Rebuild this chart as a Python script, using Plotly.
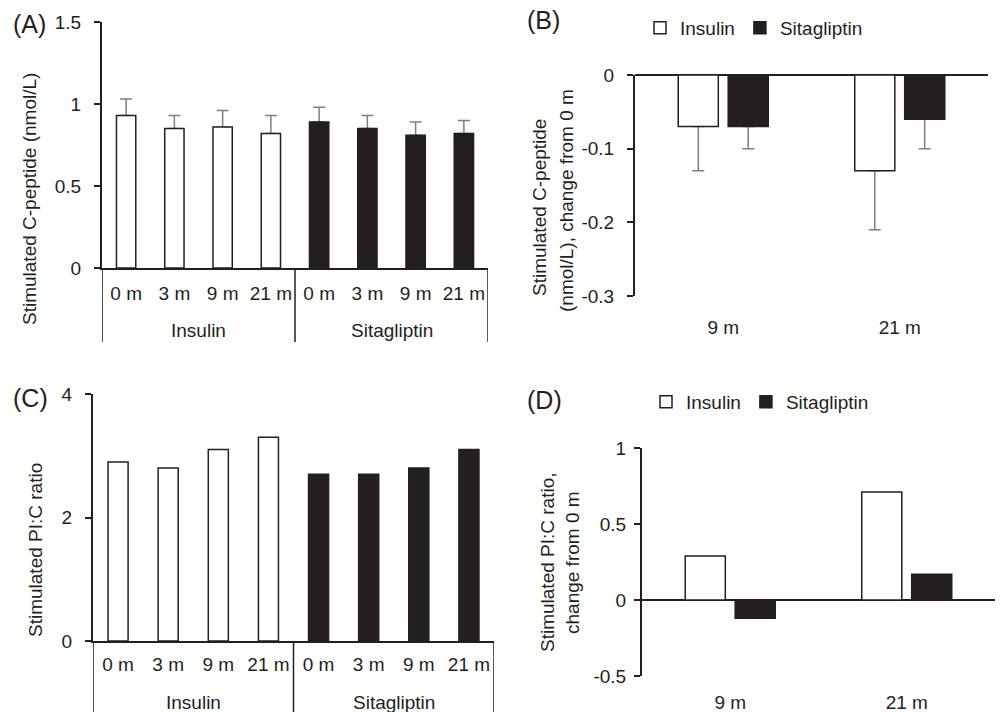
import plotly.graph_objects as go

FONT = "Liberation Sans, Arial, sans-serif"
INK = "#231f20"
ERR = "#7f7f7f"

# ---------------- data ----------------
groups = ["Insulin", "Sitagliptin"]
months_all = ["0 m", "3 m", "9 m", "21 m"]
months_change = ["9 m", "21 m"]

# (A) stimulated C-peptide (nmol/L)
a_insulin = [0.93, 0.85, 0.86, 0.82]
a_insulin_err = [0.10, 0.08, 0.10, 0.11]
a_sita = [0.89, 0.85, 0.81, 0.82]
a_sita_err = [0.09, 0.08, 0.08, 0.08]

# (B) change in stimulated C-peptide from 0 m
b_insulin = [-0.07, -0.13]
b_insulin_err = [0.06, 0.08]
b_sita = [-0.07, -0.06]
b_sita_err = [0.03, 0.04]

# (C) stimulated PI:C ratio
c_insulin = [2.9, 2.8, 3.1, 3.3]
c_sita = [2.7, 2.7, 2.8, 3.1]

# (D) change in PI:C ratio from 0 m
d_insulin = [0.29, 0.71]
d_sita = [-0.12, 0.17]

# tick labels
a_tickvals = [0, 0.5, 1, 1.5]
a_ticktext = ["0", "0.5", "1", "1.5"]
b_tickvals = [0, -0.1, -0.2, -0.3]
b_ticktext = ["0", "-0.1", "-0.2", "-0.3"]
c_tickvals = [0, 2, 4]
c_ticktext = ["0", "2", "4"]
d_tickvals = [-0.5, 0, 0.5, 1]
d_ticktext = ["-0.5", "0", "0.5", "1"]

# ---------------- figure ----------------
W, H = 1000, 712
fig = go.Figure()

def px_x(p):
    return p / W

def px_y(p):
    return 1 - p / H

CLEAR = "rgba(0,0,0,0)"
ERRSTYLE = dict(color=ERR, thickness=1.5, width=6)

# slot positions of the two-level category axis (groups x months)
n_m = len(months_all)
slot = {g: [gi * n_m + i for i in range(n_m)] for gi, g in enumerate(groups)}
all_slots = slot[groups[0]] + slot[groups[1]]
all_labels = months_all * len(groups)

# Panel A: error-bar carriers first, visible bars on top
for grp, vals, errs, fill in [
    (groups[0], a_insulin, a_insulin_err, "white"),
    (groups[1], a_sita, a_sita_err, INK),
]:
    fig.add_trace(go.Bar(x=slot[grp], y=vals, width=0.4, marker=dict(color=CLEAR, line=dict(width=0)),
                         error_y=dict(type="data", visible=True, symmetric=False, array=errs, **ERRSTYLE),
                         xaxis="x", yaxis="y", showlegend=False, hoverinfo="skip"))
    fig.add_trace(go.Bar(x=slot[grp], y=vals, width=0.4, name=grp,
                         marker=dict(color=fill, line=dict(color=INK, width=1.5)),
                         xaxis="x", yaxis="y", showlegend=False))

# Panel C
for grp, vals, fill in [(groups[0], c_insulin, "white"), (groups[1], c_sita, INK)]:
    fig.add_trace(go.Bar(x=slot[grp], y=vals, width=0.4, name=grp,
                         marker=dict(color=fill, line=dict(color=INK, width=1.5)),
                         xaxis="x3", yaxis="y3", showlegend=False))

BW = 0.227
OFF = {groups[0]: -0.255, groups[1]: 0.028}
FILL = {groups[0]: "white", groups[1]: INK}

# Panel B
for grp, vals, errs in [(groups[0], b_insulin, b_insulin_err), (groups[1], b_sita, b_sita_err)]:
    fig.add_trace(go.Bar(x=months_change, y=vals, width=BW, offset=OFF[grp],
                         marker=dict(color=CLEAR, line=dict(width=0)),
                         error_y=dict(type="data", visible=True, symmetric=False,
                                      arrayminus=errs, **ERRSTYLE),
                         xaxis="x2", yaxis="y2", showlegend=False, hoverinfo="skip"))
for grp, vals in [(groups[0], b_insulin), (groups[1], b_sita)]:
    fig.add_trace(go.Bar(x=months_change, y=vals, width=BW, offset=OFF[grp], name=grp,
                         marker=dict(color=FILL[grp], line=dict(color=INK, width=1.5)),
                         xaxis="x2", yaxis="y2", legend="legend"))

# Panel D
for grp, vals in [(groups[0], d_insulin), (groups[1], d_sita)]:
    fig.add_trace(go.Bar(x=months_change, y=vals, width=BW, offset=OFF[grp], name=grp,
                         marker=dict(color=FILL[grp], line=dict(color=INK, width=1.5)),
                         xaxis="x4", yaxis="y4", legend="legend2"))

tickfont = dict(family=FONT, size=19, color=INK)

def yax(domain, anchor, rng, tv, tt, zero=False, standoff=9):
    return dict(domain=domain, anchor=anchor, range=rng, tickvals=tv, ticktext=tt,
                ticks="outside", ticklen=6, tickwidth=1.5, tickcolor=INK,
                showline=True, linecolor=INK, linewidth=2, showgrid=False,
                zeroline=zero, zerolinecolor=INK, zerolinewidth=2, tickfont=tickfont,
                ticklabelstandoff=standoff, fixedrange=True)

def slotax(domain, anchor, standoff):
    return dict(domain=domain, anchor=anchor, type="linear",
                range=[-0.5, len(all_slots) - 0.5], tickvals=all_slots, ticktext=all_labels,
                tickangle=0, showline=True, linecolor=INK, linewidth=2, ticks="",
                showgrid=False, zeroline=False, tickfont=tickfont,
                ticklabelstandoff=standoff, fixedrange=True)

fig.update_layout(
    width=W, height=H,
    margin=dict(l=0, r=0, t=0, b=0),
    paper_bgcolor="white", plot_bgcolor="white",
    template="none",
    barmode="overlay",
    font=dict(family=FONT, size=19, color=INK),
    xaxis=slotax([px_x(102), px_x(488)], "y", 7),
    yaxis=yax([px_y(268), px_y(22)], "x", [0, 1.5], a_tickvals, a_ticktext),
    xaxis2=dict(domain=[px_x(635), px_x(988)], anchor="y2", type="category",
                showline=False, ticks="", showgrid=False, zeroline=False,
                tickfont=tickfont, ticklabelstandoff=18, fixedrange=True),
    yaxis2=yax([px_y(296), px_y(75)], "x2", [-0.3, 0], b_tickvals, b_ticktext, zero=True),
    xaxis3=slotax([px_x(93), px_x(494)], "y3", 5),
    yaxis3=yax([px_y(641), px_y(394)], "x3", [0, 4], c_tickvals, c_ticktext),
    xaxis4=dict(domain=[px_x(642), px_x(995)], anchor="y4", type="category",
                showline=False, ticks="", showgrid=False, zeroline=False,
                tickfont=tickfont, ticklabelstandoff=13, fixedrange=True),
    yaxis4=yax([px_y(676), px_y(448)], "x4", [-0.5, 1], d_tickvals, d_ticktext, zero=True,
               standoff=4),
    legend=dict(orientation="h", x=px_x(640), y=px_y(28), xanchor="left", yanchor="middle",
                font=dict(family=FONT, size=19, color=INK), bgcolor=CLEAR, borderwidth=0,
                itemclick=False, itemdoubleclick=False),
    legend2=dict(orientation="h", x=px_x(646), y=px_y(402), xanchor="left", yanchor="middle",
                 font=dict(family=FONT, size=19, color=INK), bgcolor=CLEAR, borderwidth=0,
                 itemclick=False, itemdoubleclick=False),
)

# group labels and dividers of the two-level category axes (A and C)
for xa, y_axis_px, y_label_px, y_end_px in [("x", 268, 330, 342), ("x3", 641, 702, 712)]:
    for gi, g in enumerate(groups):
        s = slot[g]
        fig.add_annotation(text=g, x=(s[0] + s[-1]) / 2, xref=xa, y=px_y(y_label_px),
                           yref="paper", xanchor="center", yanchor="middle", showarrow=False,
                           font=dict(family=FONT, size=19, color=INK))
    for b in [-0.5] + [slot[g][-1] + 0.5 for g in groups]:
        fig.add_shape(type="line", xref=xa, yref="paper", x0=b, x1=b,
                      y0=px_y(y_axis_px), y1=px_y(y_end_px),
                      line=dict(color=INK, width=1.5))

def ann(text, x, y, size=19, angle=0):
    fig.add_annotation(text=text, x=px_x(x), y=px_y(y), xref="paper", yref="paper",
                       xanchor="center", yanchor="middle", showarrow=False, textangle=angle,
                       font=dict(family=FONT, size=size, color=INK))

# panel letters
ann("(A)", 29, 24, size=25)
ann("(B)", 543, 20, size=25)
ann("(C)", 30, 398, size=25)
ann("(D)", 544, 400, size=25)

# axis titles
ann("Stimulated C-peptide (nmol/L)", 29, 199, angle=-90)
ann("Stimulated C-peptide", 539, 208, angle=-90)
ann("(nmol/L), change from 0 m", 567, 201, angle=-90)
ann("Stimulated PI:C ratio", 35, 550, angle=-90)
ann("Stimulated PI:C ratio,", 547, 562, angle=-90)
ann("change from 0 m", 572, 563, angle=-90)

fig.write_html("out.html", config={"displayModeBar": False},
               post_script="document.body.style.margin='0px';document.body.style.overflow='hidden';")
